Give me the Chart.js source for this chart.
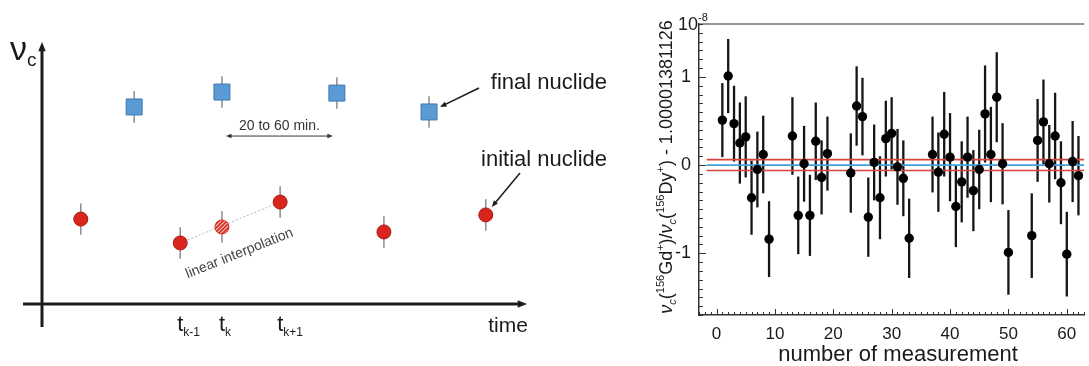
<!DOCTYPE html>
<html lang="en">
<head>
  <meta charset="UTF-8" />
  <title>Frequency ratio measurements</title>
  <script src="https://cdn.jsdelivr.net/npm/chart.js"></script>
  <style>
    body {
      margin: 0;
      background: #fff;
      width: 1089px;
      height: 366px;
      overflow: hidden;
      position: relative;
    }
    #schemeBox { position: absolute; left: 0; top: 0; width: 630px; height: 366px; }
    #ratioBox { position: absolute; left: 630px; top: 0; width: 459px; height: 366px; }
  </style>
</head>
<body>

  <div id="schemeBox"><canvas id="schemeChart" width="630" height="366"></canvas></div>
  <div id="ratioBox"><canvas id="ratioChart" width="459" height="366"></canvas></div>

  <script>
    // --- left: measurement scheme (arbitrary units, 0..100 on both axes)
    const initialX = [8.0, 28.5, 49.1, 70.5, 91.5];
    const initialY = [32.4, 23.3, 38.9, 27.5, 34.0];
    const interpX = [37.1];
    const interpY = [29.4];
    const finalX = [19.0, 37.1, 60.8, 79.8];
    const finalY = [75.2, 80.9, 80.5, 73.3];
    const schemeErr = 6;

    // --- right: frequency ratio per measurement (units of 1e-8)
    const measNumber = [1, 2, 3, 4, 5, 6, 7, 8, 9,
      13, 14, 15, 16, 17, 18, 19,
      23, 24, 25, 26, 27, 28, 29, 30, 31, 32, 33,
      37, 38, 39, 40, 41, 42, 43, 44, 45, 46, 47, 48, 49, 50,
      54, 55, 56, 57, 58, 59, 60, 61, 62];
    const measValue = [0.51, 1.01, 0.47, 0.25, 0.32, -0.37, -0.05, 0.12, -0.84,
      0.33, -0.57, 0.015, -0.57, 0.27, -0.14, 0.13,
      -0.09, 0.67, 0.55, -0.59, 0.03, -0.37, 0.30, 0.36, -0.02, -0.15, -0.83,
      0.12, -0.08, 0.35, 0.09, -0.47, -0.19, 0.09, -0.29, -0.05, 0.58, 0.12, 0.77, 0.015, -0.99,
      -0.80, 0.28, 0.49, 0.015, 0.33, -0.20, -1.01, 0.04, -0.12];
    const measError = [0.42, 0.42, 0.43, 0.46, 0.46, 0.42, 0.43, 0.44, 0.43,
      0.44, 0.44, 0.43, 0.46, 0.44, 0.42, 0.42,
      0.45, 0.45, 0.44, 0.45, 0.43, 0.47, 0.43, 0.41, 0.43, 0.43, 0.45,
      0.43, 0.45, 0.48, 0.50, 0.46, 0.46, 0.46, 0.46, 0.45, 0.55, 0.54, 0.51, 0.46, 0.48,
      0.48, 0.47, 0.48, 0.44, 0.49, 0.47, 0.48, 0.46, 0.45];
    const meanValue = 0;
    const meanError = 0.062;
    const meanLineFrom = -1.7;
    const xTickValues = [0, 10, 20, 30, 40, 50, 60];
    const yTickValues = [-1, 0, 1];

    const FONT = 'Arial, "Liberation Sans", sans-serif';

    function arrow(ctx, x1, y1, x2, y2, head) {
      const a = Math.atan2(y2 - y1, x2 - x1);
      ctx.beginPath();
      ctx.moveTo(x1, y1);
      ctx.lineTo(x2 - Math.cos(a) * head * 0.6, y2 - Math.sin(a) * head * 0.6);
      ctx.stroke();
      ctx.beginPath();
      ctx.moveTo(x2, y2);
      ctx.lineTo(x2 - head * Math.cos(a - 0.38), y2 - head * Math.sin(a - 0.38));
      ctx.lineTo(x2 - head * Math.cos(a + 0.38), y2 - head * Math.sin(a + 0.38));
      ctx.closePath();
      ctx.fill();
    }

    // parts: [text, size, dy, style]
    function richText(ctx, parts, x, y, align) {
      let w = 0;
      parts.forEach(p => {
        ctx.font = (p[3] || '') + ' ' + p[1] + 'px ' + FONT;
        w += ctx.measureText(p[0]).width;
      });
      let cx = align === 'center' ? x - w / 2 : (align === 'right' ? x - w : x);
      ctx.textAlign = 'left';
      ctx.textBaseline = 'alphabetic';
      parts.forEach(p => {
        ctx.font = (p[3] || '') + ' ' + p[1] + 'px ' + FONT;
        ctx.fillText(p[0], cx, y + p[2]);
        cx += ctx.measureText(p[0]).width;
      });
    }

    // hatched fill for the interpolated point
    const hatch = document.createElement('canvas');
    hatch.width = 4; hatch.height = 4;
    const hc = hatch.getContext('2d');
    hc.fillStyle = '#f6c9c4';
    hc.fillRect(0, 0, 4, 4);
    hc.strokeStyle = '#d9261c';
    hc.lineWidth = 1.6;
    hc.beginPath();
    hc.moveTo(-1, 5); hc.lineTo(5, -1);
    hc.moveTo(-1, 1); hc.lineTo(1, -1);
    hc.moveTo(3, 5); hc.lineTo(5, 3);
    hc.stroke();
    const hatchPattern = hc.createPattern(hatch, 'repeat');

    const toPts = (xs, ys) => xs.map((x, i) => ({ x: x, y: ys[i] }));

    const schemePlugin = {
      id: 'scheme',
      beforeDatasetsDraw(chart) {
        const ctx = chart.ctx;
        const a = chart.chartArea;
        const xs = chart.scales.x, ys = chart.scales.y;
        ctx.save();
        // axes with arrow heads
        ctx.strokeStyle = '#1c1c1c';
        ctx.fillStyle = '#1c1c1c';
        ctx.lineWidth = 3;
        arrow(ctx, a.left, a.bottom + 23, a.left, a.top, 10);
        arrow(ctx, a.left - 19, a.bottom, a.right, a.bottom, 10);
        // error bars
        ctx.strokeStyle = '#8c8c8c';
        ctx.lineWidth = 1.5;
        const bars = toPts(initialX, initialY).concat(toPts(interpX, interpY), toPts(finalX, finalY));
        bars.forEach(p => {
          const px = xs.getPixelForValue(p.x);
          ctx.beginPath();
          ctx.moveTo(px, ys.getPixelForValue(p.y + schemeErr));
          ctx.lineTo(px, ys.getPixelForValue(p.y - schemeErr));
          ctx.stroke();
        });
        ctx.restore();
      },
      afterDatasetsDraw(chart) {
        const ctx = chart.ctx;
        const a = chart.chartArea;
        const xs = chart.scales.x, ys = chart.scales.y;
        ctx.save();
        ctx.fillStyle = '#1a1a1a';
        ctx.strokeStyle = '#1a1a1a';

        // axis titles
        richText(ctx, [['\u03bd', 34, 0, ''], ['c', 19, 6, '']], 10, 60, 'left');
        richText(ctx, [['time', 21, 0, '']], a.right - 19, a.bottom + 28, 'center');

        // t labels under the three interpolation points
        const tx = [initialX[1], interpX[0], initialX[2]];
        const subs = ['k-1', 'k', 'k+1'];
        tx.forEach((v, i) => {
          richText(ctx, [['t', 22, 0, ''], [subs[i], 12, 5, '']], xs.getPixelForValue(v) - 3, a.bottom + 27, 'left');
        });

        // 20 to 60 min. spacing arrow
        const x1 = xs.getPixelForValue(interpX[0]) + 4;
        const x2 = xs.getPixelForValue(finalX[2]) - 4;
        const ay = ys.getPixelForValue(64.1);
        ctx.lineWidth = 1;
        ctx.strokeStyle = '#333';
        ctx.fillStyle = '#333';
        arrow(ctx, (x1 + x2) / 2, ay, x1, ay, 6);
        arrow(ctx, (x1 + x2) / 2, ay, x2, ay, 6);
        richText(ctx, [['20 to 60 min.', 14, 0, '']], (x1 + x2) / 2, ay - 6, 'center');

        // linear interpolation label
        ctx.save();
        ctx.translate(xs.getPixelForValue(interpX[0]) + 19, ys.getPixelForValue(interpY[0]) + 30);
        ctx.rotate(-0.38);
        ctx.fillStyle = '#444';
        richText(ctx, [['linear interpolation', 14, 0, '']], 0, 0, 'center');
        ctx.restore();

        // callouts
        ctx.fillStyle = '#1a1a1a';
        ctx.strokeStyle = '#1a1a1a';
        ctx.lineWidth = 1.5;
        richText(ctx, [['final nuclide', 22, 0, '']], 607, 89, 'right');
        richText(ctx, [['initial nuclide', 22, 0, '']], 607, 166, 'right');
        const bx = xs.getPixelForValue(finalX[3]), by = ys.getPixelForValue(finalY[3]);
        arrow(ctx, 479, 88, bx + 11, by - 5, 7);
        const rx = xs.getPixelForValue(initialX[4]), ry = ys.getPixelForValue(initialY[4]);
        arrow(ctx, 520, 173, rx + 6, ry - 8, 7);
        ctx.restore();
      }
    };

    new Chart(document.getElementById('schemeChart'), {
      type: 'scatter',
      data: {
        datasets: [
          {
            data: toPts(initialX, initialY),
            pointStyle: 'circle', pointRadius: 7,
            backgroundColor: '#d9261c', borderColor: '#a81a13', borderWidth: 1
          },
          {
            data: toPts(interpX, interpY),
            pointStyle: 'circle', pointRadius: 7,
            backgroundColor: hatchPattern, borderColor: '#d9261c', borderWidth: 1
          },
          {
            data: toPts(finalX, finalY),
            pointStyle: 'rect', pointRadius: 11.3,
            backgroundColor: '#5b9bd5', borderColor: '#3d78b3', borderWidth: 1
          },
          {
            type: 'line',
            data: [{ x: initialX[1], y: initialY[1] }, { x: initialX[2], y: initialY[2] }],
            borderColor: '#b5b5b5', borderWidth: 1, borderDash: [2, 2],
            pointRadius: 0, fill: false
          }
        ]
      },
      options: {
        responsive: false,
        animation: false,
        events: [],
        layout: { padding: { left: 42, right: 103, top: 42, bottom: 62 } },
        plugins: { legend: { display: false }, tooltip: { enabled: false } },
        scales: {
          x: { type: 'linear', min: 0, max: 100, display: false },
          y: { type: 'linear', min: 0, max: 100, display: false }
        }
      },
      plugins: [schemePlugin]
    });

    const ratioPlugin = {
      id: 'ratio',
      beforeDatasetsDraw(chart) {
        const ctx = chart.ctx;
        const xs = chart.scales.x, ys = chart.scales.y;
        ctx.save();
        ctx.strokeStyle = '#151515';
        ctx.lineWidth = 2.3;
        measNumber.forEach((n, i) => {
          const px = xs.getPixelForValue(n);
          ctx.beginPath();
          ctx.moveTo(px, ys.getPixelForValue(measValue[i] + measError[i]));
          ctx.lineTo(px, ys.getPixelForValue(measValue[i] - measError[i]));
          ctx.stroke();
        });
        ctx.restore();
      },
      afterDraw(chart) {
        const ctx = chart.ctx;
        const a = chart.chartArea;
        const xs = chart.scales.x, ys = chart.scales.y;
        ctx.save();
        // top frame line
        ctx.strokeStyle = '#777';
        ctx.lineWidth = 1.5;
        ctx.beginPath();
        ctx.moveTo(a.left, a.top);
        ctx.lineTo(a.right, a.top);
        ctx.stroke();

        // inward ticks
        ctx.strokeStyle = '#333';
        ctx.lineWidth = 1;
        for (let k = -17; k <= 16; k++) {
          const py = Math.round(ys.getPixelForValue(k / 10)) + 0.5;
          const len = k % 10 === 0 ? 7 : 4;
          ctx.beginPath();
          ctx.moveTo(a.left, py);
          ctx.lineTo(a.left + len, py);
          ctx.stroke();
        }
        for (let k = -3; k <= 63; k++) {
          const px = Math.round(xs.getPixelForValue(k)) + 0.5;
          const len = k % 10 === 0 ? 6 : 3;
          ctx.beginPath();
          ctx.moveTo(px, a.bottom);
          ctx.lineTo(px, a.bottom - len);
          ctx.stroke();
        }

        ctx.fillStyle = '#1a1a1a';
        // exponent label
        richText(ctx, [['10', 18, 0, ''], ['-8', 11, -9, '']], a.left - 21, 30, 'left');
        // x title
        richText(ctx, [['number of measurement', 22, 0, '']], 268, 361, 'center');
        // y title
        ctx.translate(42, 167);
        ctx.rotate(-Math.PI / 2);
        const S = 18, s = 11;
        richText(ctx, [
          ['\u03bd', S, 0, 'italic'], ['c', s, 4, 'italic'], ['(', S, 0, ''], ['156', s, -8, ''],
          ['Gd', S, 0, ''], ['+', s, -8, ''], [')/', S, 0, ''],
          ['\u03bd', S, 0, 'italic'], ['c', s, 4, 'italic'], ['(', S, 0, ''], ['156', s, -8, ''],
          ['Dy', S, 0, ''], ['+', s, -8, ''], [') - 1.00001381126', S, 0, '']
        ], 0, 0, 'center');
        ctx.restore();
      }
    };

    new Chart(document.getElementById('ratioChart'), {
      type: 'scatter',
      data: {
        datasets: [
          {
            data: toPts(measNumber, measValue),
            pointStyle: 'circle', pointRadius: 4.7,
            backgroundColor: '#000', borderWidth: 0
          },
          {
            type: 'line',
            data: [{ x: meanLineFrom, y: meanValue }, { x: 63, y: meanValue }],
            borderColor: '#3fa3d8', borderWidth: 1.8, pointRadius: 0, fill: false
          },
          {
            type: 'line',
            data: [{ x: meanLineFrom, y: meanValue + meanError }, { x: 63, y: meanValue + meanError }],
            borderColor: '#d6453d', borderWidth: 1.6, pointRadius: 0, fill: false
          },
          {
            type: 'line',
            data: [{ x: meanLineFrom, y: meanValue - meanError }, { x: 63, y: meanValue - meanError }],
            borderColor: '#d6453d', borderWidth: 1.6, pointRadius: 0, fill: false
          }
        ]
      },
      options: {
        responsive: false,
        animation: false,
        events: [],
        layout: { padding: { left: 0, right: 0, top: 24, bottom: 0 } },
        plugins: { legend: { display: false }, tooltip: { enabled: false } },
        scales: {
          x: {
            type: 'linear', min: -3, max: 63,
            afterBuildTicks: s => { s.ticks = xTickValues.map(v => ({ value: v })); },
            afterFit: s => { s.height = 51; },
            grid: { display: false, drawTicks: false },
            border: { color: '#333', width: 1.5 },
            ticks: { font: { size: 17, family: FONT }, color: '#1a1a1a', padding: 9, maxRotation: 0 }
          },
          y: {
            type: 'linear', min: -1.7, max: 1.6,
            afterBuildTicks: s => { s.ticks = yTickValues.map(v => ({ value: v })); },
            afterFit: s => { s.width = 69; },
            grid: { display: false, drawTicks: false },
            border: { color: '#333', width: 1.5 },
            ticks: { font: { size: 18, family: FONT }, color: '#1a1a1a', padding: 8 }
          }
        }
      },
      plugins: [ratioPlugin]
    });
  </script>

</body>
</html>
